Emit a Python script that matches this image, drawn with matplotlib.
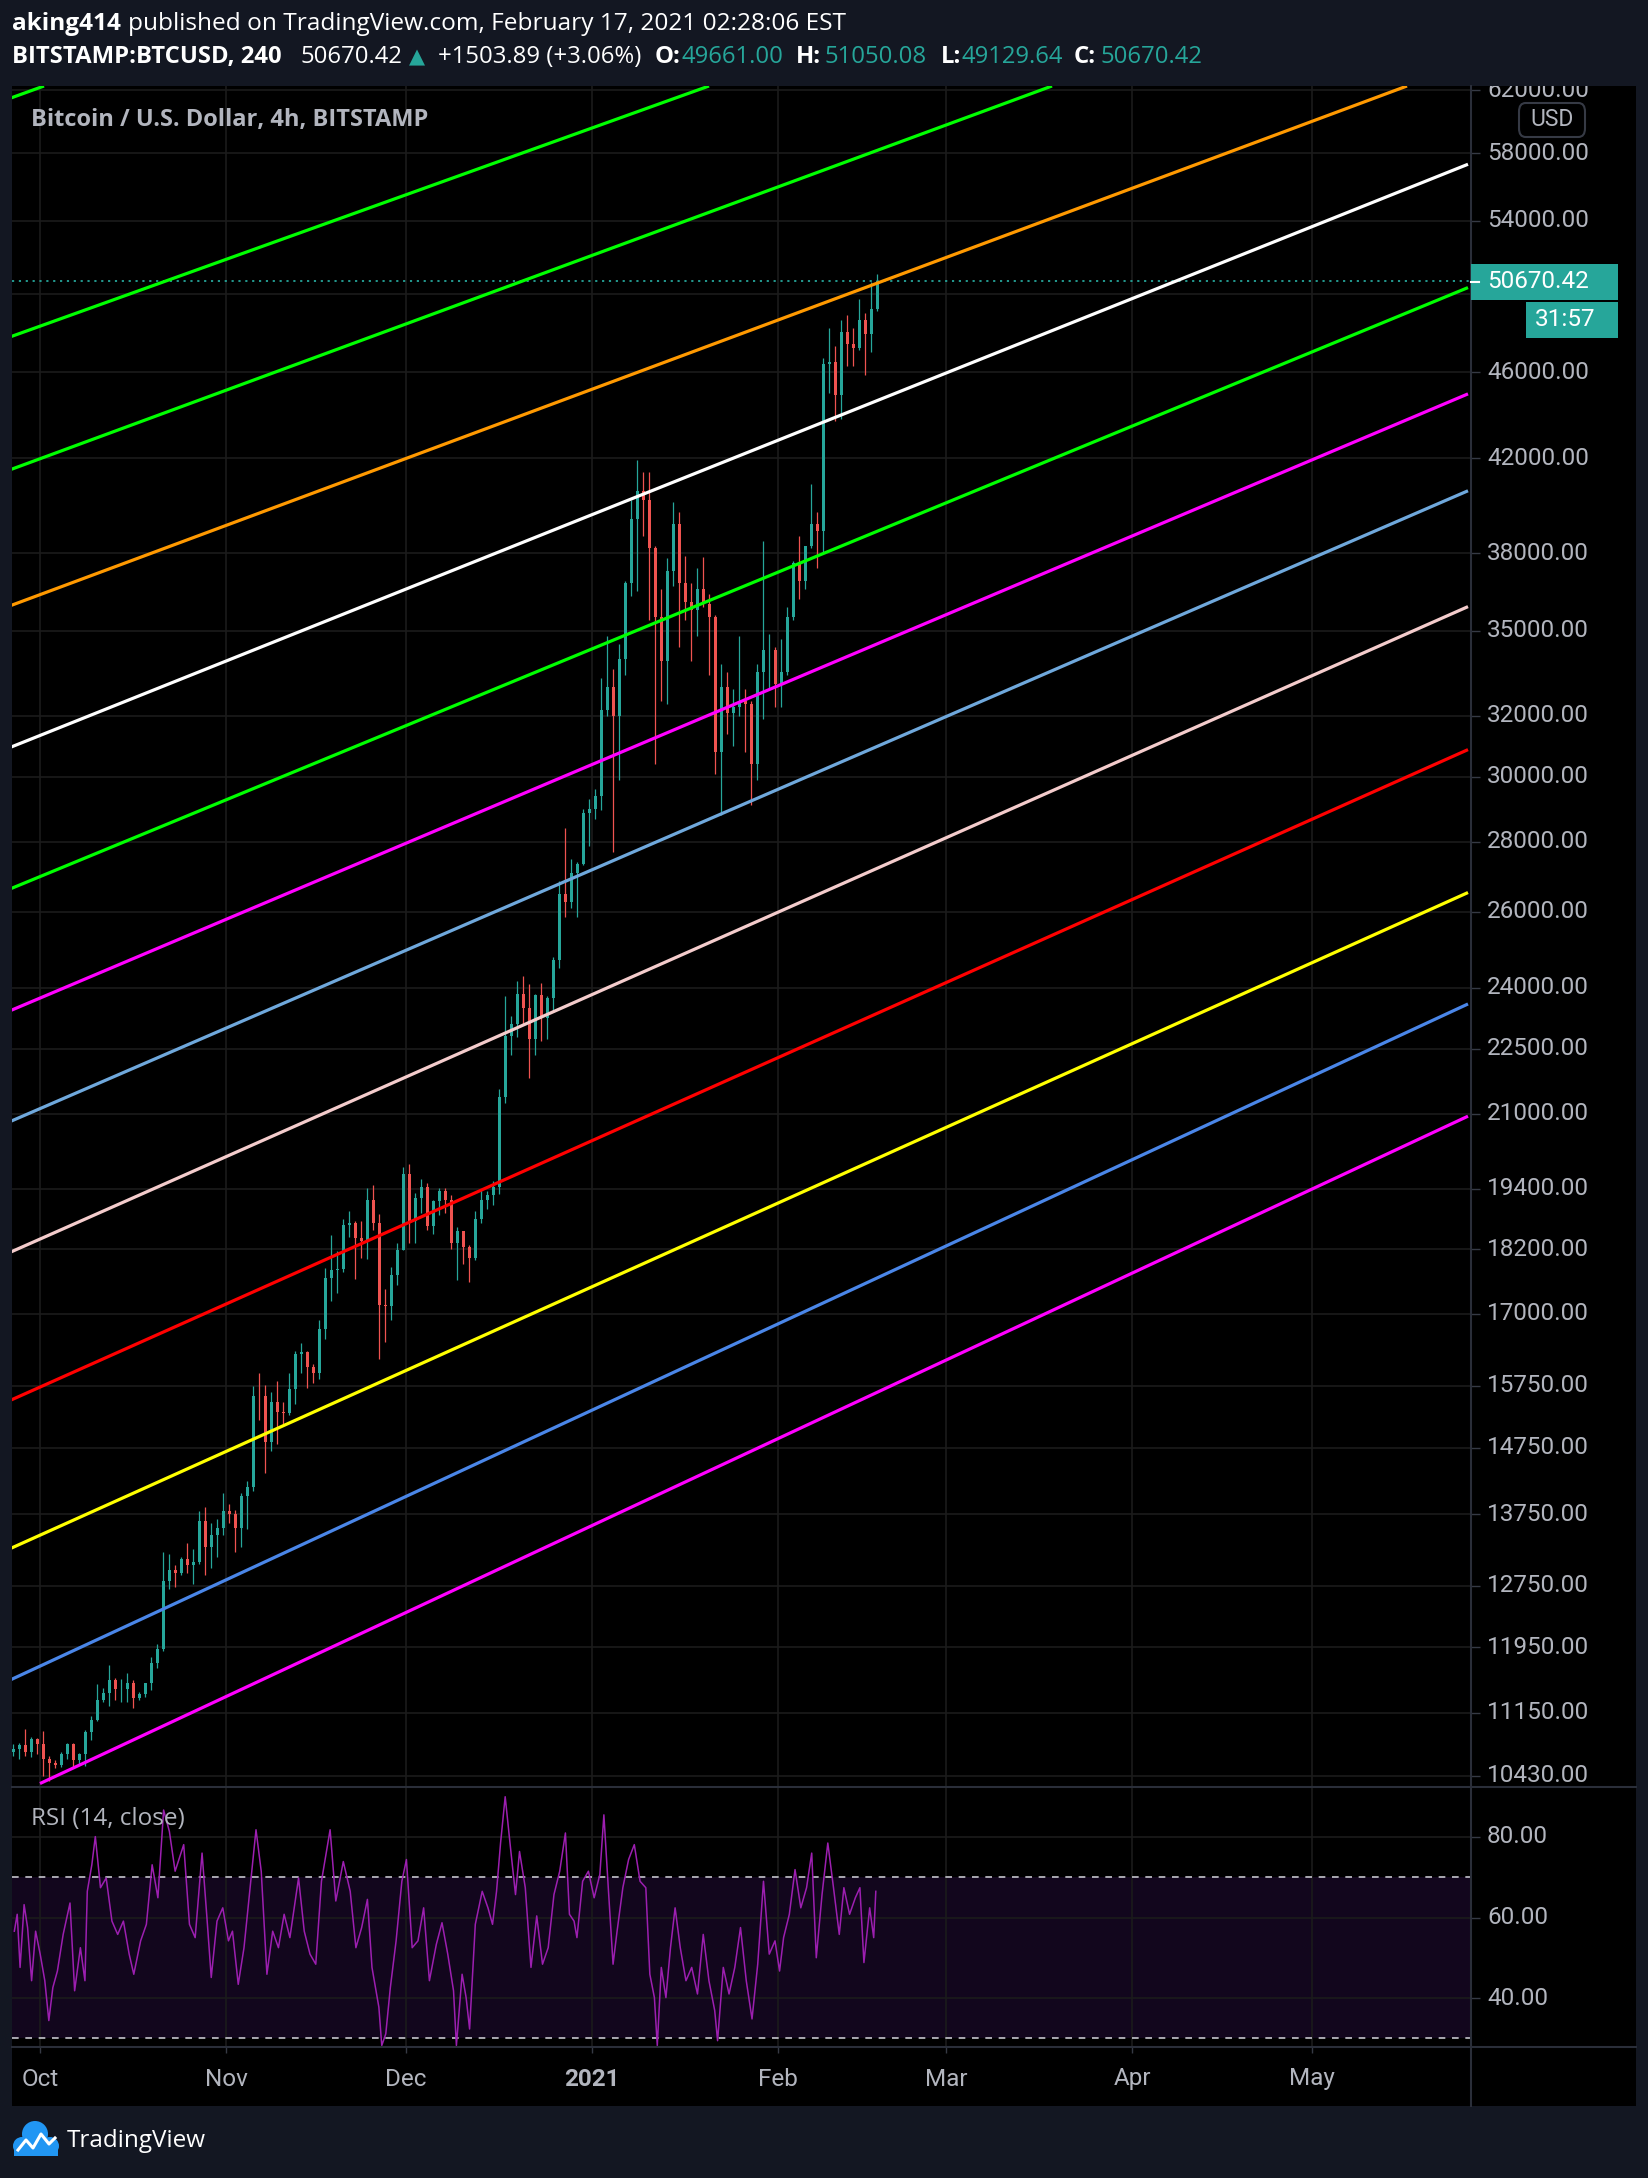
import numpy as np
import pandas as pd
import matplotlib
matplotlib.use("Agg")
import matplotlib.pyplot as plt
import matplotlib.dates as mdates
from matplotlib.lines import Line2D
from matplotlib.patches import Rectangle, FancyBboxPatch, Circle
from matplotlib.ticker import NullLocator
from matplotlib.transforms import Bbox, TransformedBbox, blended_transform_factory as blend

W, H = 1648, 2178
BG, TXT, TEAL, RED = "#131722", "#b2b5be", "#26a69a", "#ef5350"
GRID, AXLINE = "#1b1b1b", "#2a2e39"
SANS = ["Open Sans", "DejaVu Sans"]
NUM = ["Roboto", "DejaVu Sans"]

# ---- BITSTAMP:BTCUSD, daily OHLC, from 2020-09-26 ----
START = "2020-09-26"
OPEN = [10690, 10730, 10775, 10700, 10840,
        10780, 10620, 10570, 10550, 10670, 10790, 10600, 10670, 10920, 11060, 11300, 11380, 11540, 11430, 11430, 11500,
        11320, 11370, 11500, 11750, 11920, 12820, 12970, 12930, 13110, 13030, 13070, 13650, 13280, 13460, 13560,
        13800, 13760, 13550, 14020, 14150, 15590, 15580, 14840, 15480, 15330, 15300, 15700, 16300, 16330, 16070,
        15960, 16730, 17660, 17800, 17820, 18680, 18710, 18410, 18360, 19170, 18720, 17150, 17140, 17720, 18180,
        19700, 18760, 19220, 19440, 18650, 19150, 19360, 19170, 18320, 18550, 18250, 18030, 18800, 19170, 19270,
        19440, 21370, 22800, 23100, 23840, 23480, 22720, 23820, 23240, 23730, 24700, 26490, 26280, 27080, 27360, 28880,
        28990, 29400, 32200, 33000, 31990, 33990, 36800, 39400, 40600, 40200, 38200, 35500, 33900, 37300, 39200,
        36800, 36100, 35800, 36600, 36000, 35500, 30800, 33000, 32100, 32300, 32500, 32400, 30400, 33500, 34300, 34300,
        33100, 33500, 35500, 37600, 36900, 38300, 39200, 38900, 46400, 46500, 44900, 48000, 47400, 47200, 48600,
        47900, 49170]
HIGH = [10780, 10800, 10960, 10870, 10850,
        10940, 10650, 10600, 10690, 10800, 10800, 10680, 10950, 11110, 11490, 11440, 11730, 11560, 11550, 11630,
        11540, 11400, 11490, 11820, 11990, 13210, 13190, 13030, 13150, 13340, 13260, 13800, 13860, 13630, 13680, 14070,
        13900, 13820, 14070, 14250, 15750, 15970, 15770, 15650, 15840, 15480, 15960, 16340, 16480, 16340, 16120,
        16880, 17850, 18480, 18170, 18800, 18960, 18750, 18760, 19420, 19480, 18900, 17450, 17860, 18330, 19860,
        19920, 19320, 19600, 19520, 19170, 19420, 19410, 19280, 18640, 18560, 18280, 18950, 19400, 19350, 19560,
        21560, 23800, 23290, 24170, 24290, 24100, 23840, 24120, 23780, 24780, 26870, 28400, 27500, 27400, 28990, 29300,
        29600, 33300, 34800, 33600, 34500, 36900, 40200, 41950, 41400, 41400, 38300, 36600, 37800, 40100, 39700,
        37900, 36800, 37400, 37850, 36400, 35600, 33800, 33500, 32900, 34800, 32900, 32500, 33800, 38500, 34900, 34400,
        34700, 35900, 37700, 38700, 38300, 40900, 39700, 46700, 48200, 47300, 48600, 48900, 48200, 49700, 49000,
        50600, 51050]
LOW = [10650, 10620, 10650, 10640, 10670,
       10430, 10370, 10510, 10530, 10620, 10530, 10560, 10540, 10830, 11050, 11280, 11230, 11300, 11270, 11280,
       11210, 11300, 11340, 11420, 11690, 11900, 12700, 12740, 12900, 12920, 12770, 13050, 12900, 12990, 13140, 13450,
       13620, 13210, 13290, 13540, 14090, 15200, 14360, 14700, 14820, 15090, 15280, 15460, 15970, 15720, 15800,
       15870, 16550, 17230, 17370, 17760, 18430, 17630, 18040, 18020, 18580, 16200, 16500, 16880, 17520, 18180,
       18330, 18330, 18920, 18580, 18500, 18870, 18910, 18200, 17620, 17910, 17580, 18000, 18720, 19000, 19080,
       19290, 21240, 22350, 22780, 23080, 21820, 22360, 22690, 22730, 23420, 24500, 25860, 26100, 25850, 27320, 27870,
       28700, 28950, 32000, 27700, 29900, 33400, 36300, 36500, 38700, 35400, 30400, 32500, 32400, 36700, 34400,
       35400, 33900, 34800, 35900, 33400, 30100, 28800, 31400, 31000, 32000, 30800, 29100, 29900, 31900, 32900, 32300,
       32300, 33400, 35400, 36200, 36600, 38200, 37400, 38000, 45000, 43700, 43800, 46300, 46300, 47100, 45900,
       47000, 49100]
CLOSE = OPEN[1:] + [50670.42]

# ---- trend lines drawn on the chart: start/end date and price ----
LINE_COLORS = ["#00ff00", "#00ff00", "#00ff00", "#ff9900", "#ffffff", "#00ff00", "#ff00ff",
               "#6fa8dc", "#f4cccc", "#ff0000", "#ffff00", "#4a86e8", "#ff00ff"]
LINE_T0 = ["2020-09-26"] * 12 + ["2020-10-01"]
LINE_P0 = [61470, 47760, 41500, 35940, 30940, 26640, 23420, 20830, 18140, 15510, 13260, 11540, 10344]
LINE_T1 = ["2020-10-01 16:00", "2021-01-20 12:00", "2021-03-18 16:00", "2021-05-16 20:00"] + ["2021-05-27"] * 9
LINE_P1 = [62276, 62276, 62276, 62276, 57330, 50320, 44970, 40590, 35910, 30870, 26540, 23590, 20950]

# ---- RSI(14): days after 2020-10-01, value ----
RSI_DAY = [-4.28, -3.80, -3.32, -2.65, -2.07, -1.40, -0.73, 0.03, 0.80, 1.47, 2.14, 2.90, 3.86, 5.00, 5.77, 6.73,
           7.49, 7.88, 8.64, 9.22, 10.08, 11.03, 11.99, 12.95, 13.90, 14.86, 15.63, 16.77, 17.73, 18.69, 19.65,
           20.60, 21.56, 22.52, 23.95, 24.91, 25.86, 27.01, 27.78, 28.54, 29.50, 30.46, 31.41, 32.08, 33.04, 34.00,
           34.95, 36.00, 36.87, 37.82, 38.78, 39.74, 40.69, 41.65, 42.61, 43.09, 44.04, 45.00, 45.96, 46.91, 48.35,
           49.30, 50.55, 51.70, 52.65, 53.61, 54.57, 55.33, 56.48, 56.96, 57.63, 58.39, 59.35, 60.31, 61.07, 62.03,
           62.99, 63.94, 64.90, 66.05, 67.00, 67.96, 68.92, 69.40, 70.35, 71.02, 71.60, 72.55, 73.70, 74.66, 75.42,
           76.09, 76.76, 77.53, 78.48, 79.25, 79.92, 80.88, 81.83, 82.79, 83.75, 84.70, 85.66, 86.62, 87.57, 88.24,
           89.01, 89.49, 90.44, 91.40, 92.36, 93.31, 93.98, 94.75, 95.51, 96.18, 97.14, 98.10, 99.05, 100.01,
           100.97, 101.64, 102.40, 102.88, 103.55, 104.32, 105.08, 105.85, 106.71, 107.66, 108.62, 109.58, 110.54,
           111.49, 112.45, 112.93, 113.88, 114.84, 115.80, 116.75, 117.71, 118.67, 119.62, 120.58, 121.54, 122.50,
           123.26, 123.93, 124.89, 125.84, 126.80, 127.76, 128.62, 129.38, 130.34, 131.30, 132.25, 133.21, 133.98,
           134.93, 135.89, 136.65, 137.32, 138.28, 138.95, 139.30]
RSI_VAL = [56.6, 60.8, 47.6, 63.2, 57.5, 44.3, 56.6, 50.9, 44.3, 34.4, 42.6, 46.7, 55.8, 63.6, 41.8, 52.5,
           44.3, 66.5, 73.1, 80.1, 67.4, 69.8, 59.1, 55.8, 59.1, 50.9, 45.9, 54.2, 58.3, 73.1, 64.9,
           86.7, 81.4, 71.5, 78.1, 58.3, 55.0, 76.0, 60.8, 45.1, 59.1, 62.4, 54.2, 56.6, 43.4, 52.5,
           66.5, 81.8, 71.5, 45.9, 56.6, 52.5, 60.8, 55.0, 64.9, 69.8, 56.6, 50.9, 48.4, 69.0, 81.8,
           64.1, 73.9, 66.5, 52.5, 57.5, 64.5, 47.6, 37.7, 28.2, 31.1, 42.6, 54.2, 69.0, 74.4, 52.5,
           54.2, 62.4, 44.3, 53.3, 58.7, 50.9, 41.8, 28.2, 45.9, 40.1, 32.3, 58.3, 66.5, 62.4, 58.3,
           66.5, 78.5, 90.0, 76.4, 65.7, 76.4, 67.4, 47.6, 60.4, 48.4, 52.5, 65.7, 71.5, 81.0, 60.8,
           59.1, 55.0, 69.0, 71.5, 64.9, 70.7, 85.5, 66.5, 48.4, 56.6, 67.4, 74.4, 78.1, 69.0,
           67.4, 45.9, 40.1, 28.2, 47.6, 40.1, 52.5, 62.4, 52.5, 44.3, 47.6, 41.0, 55.8,
           44.3, 36.9, 29.4, 47.6, 41.0, 47.6, 57.5, 44.3, 34.8, 48.4, 69.0, 50.9, 54.2,
           46.7, 55.0, 60.8, 71.9, 62.4, 67.4, 76.0, 50.0, 65.7, 78.5, 67.4, 55.8, 67.4,
           60.8, 64.9, 67.4, 48.8, 62.4, 55.0, 66.5]

PRICE_TICKS = [62000, 58000, 54000, 50000, 46000, 42000, 38000, 35000, 32000, 30000, 28000, 26000, 24000,
               22500, 21000, 19400, 18200, 17000, 15750, 14750, 13750, 12750, 11950, 11150, 10430]
RSI_TICKS = [80, 60, 40]
MONTHS = ["2020-10-01", "2020-11-01", "2020-12-01", "2021-01-01", "2021-02-01", "2021-03-01", "2021-04-01", "2021-05-01"]
MONTH_LABELS = ["Oct", "Nov", "Dec", "2021", "Feb", "Mar", "Apr", "May"]


def fr(x0, y0, x1, y1):
    return [x0 / W, 1 - y1 / H, (x1 - x0) / W, (y1 - y0) / H]


def fy(y):
    return 1 - y / H


fig = plt.figure(figsize=(W / 100, H / 100), dpi=100, facecolor=BG)
fig.add_artist(Rectangle((12 / W, fy(2106)), 1624 / W, 2020 / H, transform=fig.transFigure,
                         facecolor="black", edgecolor="none", zorder=-5))

base = mdates.datestr2num("2020-10-01")
xlim = (base - 4.667, base + 238.5)

ax = fig.add_axes(fr(12, 86, 1471, 1786))
ax2 = fig.add_axes(fr(12, 1788, 1471, 2047), sharex=ax)
for a in (ax, ax2):
    a.set_facecolor("black")
    for s in a.spines.values():
        s.set_visible(False)
    a.set_xticks(mdates.datestr2num(MONTHS))
    a.grid(True, color=GRID, lw=1.2)
    a.set_axisbelow(True)
ax.set_xlim(*xlim)

# ---- price pane ----
ax.set_yscale("log")
ax.set_ylim(10317, 62276)
ax.set_yticks(PRICE_TICKS)
ax.yaxis.set_minor_locator(NullLocator())
ax.yaxis.tick_right()
ax.tick_params(axis="y", length=6.5, width=1, color="#363a45", labelright=False, labelleft=False)
ax.tick_params(axis="x", length=0, labelbottom=False)

days = mdates.date2num(pd.date_range(START, periods=len(CLOSE), freq="D")) + 0.5
o, h, l, c = map(np.asarray, (OPEN, HIGH, LOW, CLOSE))
col = np.where(c >= o, TEAL, RED)
ax.vlines(days, l, h, colors=col, lw=0.9, zorder=3)
ax.bar(days, np.abs(c - o), bottom=np.minimum(o, c), width=0.5, color=col, lw=0, zorder=3)

for colr, t0, p0, t1, p1 in zip(LINE_COLORS, LINE_T0, LINE_P0, LINE_T1, LINE_P1):
    ax.plot(mdates.datestr2num([t0, t1]), [p0, p1], color=colr, lw=2.3, solid_capstyle="butt", zorder=4)

ax.axhline(CLOSE[-1], color=TEAL, lw=1.3, dashes=(1.2, 2.6), zorder=2)

clip_top = TransformedBbox(Bbox([[12 / W, fy(1786)], [1636 / W, fy(86)]]), fig.transFigure)
tr = blend(fig.transFigure, ax.transData)
for v in PRICE_TICKS:
    t = ax.text(1487 / W, v, f"{v:.2f}", transform=tr, color=TXT, fontsize=17.5, family=NUM,
                va="center", ha="left", clip_on=True)
    t.set_clip_box(clip_top)

ax.text(19 / 1459, 1 - 34 / 1700, "Bitcoin / U.S. Dollar, 4h, BITSTAMP", transform=ax.transAxes,
        color=TXT, fontsize=17, family=SANS, weight="bold", va="center", ha="left")

# ---- RSI pane ----
ax2.set_ylim(27.83, 92.17)
ax2.set_yticks(RSI_TICKS)
ax2.yaxis.tick_right()
ax2.tick_params(axis="y", length=6.5, width=1, color="#363a45", labelright=False, labelleft=False)
ax2.tick_params(axis="x", length=4.5, width=1, color="#363a45", labelbottom=False)
ax2.axhspan(30, 70, color="#12061d", lw=0, zorder=0.5)
ax2.axhline(70, color="#c4c4cc", lw=1.2, dashes=(4, 4), zorder=2)
ax2.axhline(30, color="#c4c4cc", lw=1.2, dashes=(4, 4), zorder=2)
ax2.plot(base + np.asarray(RSI_DAY), RSI_VAL, color="#9c1fb0", lw=1.1, zorder=3)
tr2 = blend(fig.transFigure, ax2.transData)
for v in RSI_TICKS:
    ax2.text(1487 / W, v, f"{v:.2f}", transform=tr2, color=TXT, fontsize=17.5, family=NUM,
             va="center", ha="left")
ax2.text(19 / 1459, 1 - 31 / 259, "RSI (14, close)", transform=ax2.transAxes, color=TXT,
         fontsize=17.5, family=SANS, va="center", ha="left")

trx = blend(ax2.transData, fig.transFigure)
for d, lab in zip(mdates.datestr2num(MONTHS), MONTH_LABELS):
    fig.text(d, fy(2079), lab, transform=trx, color=TXT, fontsize=17.5, family=NUM, ha="center", va="center",
             weight="bold" if lab == "2021" else "normal")

# ---- frame lines ----
for (x0, y0, x1, y1) in [(12, 1787, 1636, 1787), (12, 2047, 1636, 2047), (1471, 86, 1471, 2106)]:
    fig.add_artist(Line2D([x0 / W, x1 / W], [fy(y0), fy(y1)], transform=fig.transFigure,
                          color=AXLINE, lw=1.5, zorder=6))

# ---- last price badges ----
fig.add_artist(Rectangle((1471 / W, fy(300)), 147 / W, 36 / H, transform=fig.transFigure,
                         facecolor=TEAL, edgecolor="none", zorder=7))
fig.add_artist(Rectangle((1526 / W, fy(338)), 92 / W, 36 / H, transform=fig.transFigure,
                         facecolor=TEAL, edgecolor="none", zorder=7))
fig.add_artist(Line2D([1471 / W, 1479 / W], [fy(282), fy(282)], transform=fig.transFigure,
                      color="white", lw=1.5, zorder=8))
fig.text(1487 / W, fy(282), f"{CLOSE[-1]:.2f}", color="white", fontsize=17.5, family=NUM,
         va="center", ha="left", zorder=8)
fig.text(1535 / W, fy(320), "31:57", color="white", fontsize=17.5, family=NUM, va="center", ha="left", zorder=8)
fig.add_artist(FancyBboxPatch((1519 / W, fy(137)), 66 / W, 34 / H, transform=fig.transFigure,
                              boxstyle="round,pad=0,rounding_size=0.004", facecolor="black",
                              edgecolor="#363a45", lw=1.5, zorder=7))
fig.text(1552 / W, fy(120), "USD", color=TXT, fontsize=16.5, family=NUM, va="center", ha="center", zorder=8)

# ---- header ----
renderer = fig.canvas.get_renderer()
who = fig.text(12 / W, fy(24), "aking414", color="white", fontsize=17.6, family=SANS, weight="bold", va="center")
x_after = who.get_window_extent(renderer).x1 / W + 7 / W
fig.text(x_after, fy(24), "published on TradingView.com, February 17, 2021 02:28:06 EST", color="white",
         fontsize=17.6, family=SANS, va="center")
segs = [("BITSTAMP:BTCUSD, 240", 12, "white", "bold"), ("50670.42", 300, "white", "normal"),
        ("+1503.89 (+3.06%)", 438, "white", "normal"),
        ("O:", 655, "white", "bold"), ("49661.00", 682, TEAL, "normal"),
        ("H:", 796, "white", "bold"), ("51050.08", 825, TEAL, "normal"),
        ("L:", 941, "white", "bold"), ("49129.64", 962, TEAL, "normal"),
        ("C:", 1074, "white", "bold"), ("50670.42", 1100, TEAL, "normal")]
for s, x, colr, wt in segs:
    fig.text(x / W, fy(57), s, color=colr, fontsize=17.2, family=SANS, weight=wt, va="center")
fig.text(409 / W, fy(57), "\u25b2", color=TEAL, fontsize=15, family=["DejaVu Sans"], va="center")

# ---- TradingView logo ----
lg = fig.add_axes(fr(10, 2118, 62, 2162))
lg.set_xlim(10, 62)
lg.set_ylim(2162, 2118)
lg.axis("off")
blue = "#2196f3"
for cx, cy, r in [(22, 2146, 9), (35, 2134, 13), (50, 2146, 9)]:
    lg.add_patch(Circle((cx, cy), r, color=blue, lw=0))
lg.add_patch(Rectangle((14, 2144), 44, 12, color=blue, lw=0))
lg.plot([18, 26, 33, 41, 49, 55], [2150, 2140, 2148, 2134, 2144, 2138], color="white", lw=2.2)
fig.text(67 / W, fy(2141), "TradingView", color="white", fontsize=17.5, family=SANS, va="center")

fig.savefig("out.png", dpi=100, facecolor=BG)
